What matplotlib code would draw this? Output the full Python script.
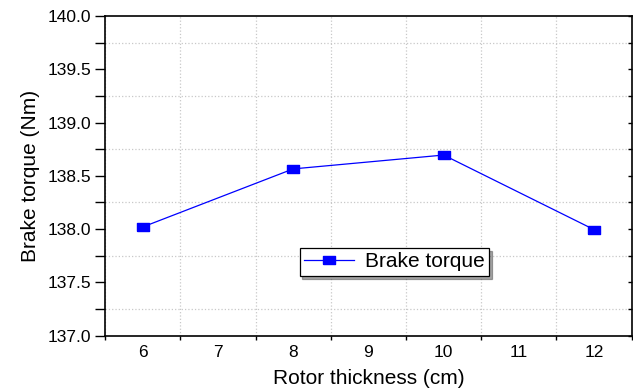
import numpy as np
import matplotlib
matplotlib.use("Agg")
import matplotlib.pyplot as plt

plt.rcParams['font.family'] = ['Liberation Sans', 'DejaVu Sans']

thickness = [6, 8, 10, 12]
torque = [138.02, 138.565, 138.695, 137.995]

# wide, flat square marker like the source image
box = [(-1, -0.7), (1, -0.7), (1, 0.7), (-1, 0.7), (-1, -0.7)]

fig = plt.figure(figsize=(6.33, 3.89), dpi=100)
ax = fig.add_axes([0.166, 0.137, 0.832, 0.822])

ax.plot(thickness, torque, color='#0000ff', lw=0.9, marker=box, ms=9,
        mec='#0000ff', mfc='#0000ff', label='Brake torque')

ax.set_xlim(5.5, 12.5)
ax.set_ylim(137.0, 140.0)

# ticks at half values, labels at integers
ax.set_xticks(np.arange(5.5, 12.6, 1.0))
ax.set_xticklabels([])
ax.set_xticks(np.arange(6, 13, 1), minor=True)
ax.set_xticklabels([str(v) for v in range(6, 13)], minor=True)
ax.set_yticks(np.arange(137.0, 140.01, 0.5))
ax.set_yticklabels(['%.1f' % v for v in np.arange(137.0, 140.01, 0.5)])
ax.set_yticks(np.arange(137.25, 140.0, 0.5), minor=True)

ax.tick_params(axis='x', which='major', direction='out', length=3, width=1)
ax.tick_params(axis='x', which='minor', length=0, labelsize=12.5, pad=7)
ax.tick_params(axis='y', which='both', direction='out', length=7, width=1,
               labelsize=12.5, pad=3)
ax.tick_params(axis='y', which='both', right=True)
for t in ax.yaxis.get_major_ticks() + ax.yaxis.get_minor_ticks():
    t.tick2line.set_marker(matplotlib.markers.TICKLEFT)
    t.tick2line.set_markersize(3)

ax.grid(True, which='major', axis='x', color='#c8c8c8', ls=':', lw=0.9)
ax.grid(True, which='minor', axis='y', color='#c8c8c8', ls=':', lw=0.9)

for s in ax.spines.values():
    s.set_linewidth(1.2)

ax.set_xlabel('Rotor thickness (cm)', fontsize=15, labelpad=6)
ax.set_ylabel('Brake torque (Nm)', fontsize=15, labelpad=5)

leg = ax.legend(loc='center', bbox_to_anchor=(0.549, 0.231), fontsize=15,
                frameon=True, fancybox=False, shadow=True, handlelength=2.4,
                borderpad=0.22, handletextpad=0.5, borderaxespad=0)
leg.get_frame().set_edgecolor('black')
leg.get_frame().set_linewidth(0.9)

fig.savefig('out.png', dpi=100)
